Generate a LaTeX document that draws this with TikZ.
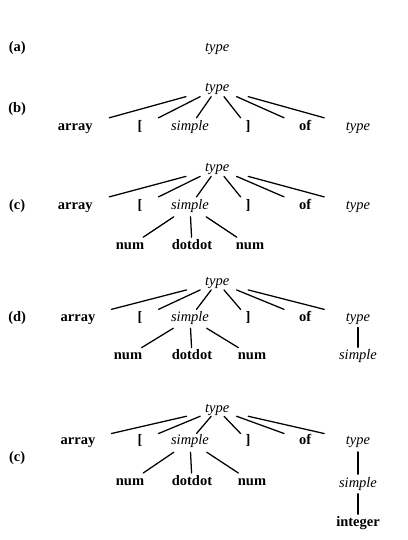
\documentclass[tikz,border=0pt]{standalone}
\usepackage{fontspec}
\setmainfont{Liberation Serif}
\usetikzlibrary{calc}
\tikzset{
  every node/.style={font=\fontsize{10.3}{12}\selectfont, inner sep=1pt,
                     text height=1.6ex, text depth=0.45ex},
  term/.style   = {font=\fontsize{10.3}{12}\selectfont\bfseries},
  nt/.style     = {font=\fontsize{10.3}{12}\selectfont\itshape},
  lbl/.style    = {font=\fontsize{10.3}{12}\selectfont\bfseries},
  branch/.style = {line width=0.9pt, line cap=round},
}

\begin{document}
\begin{tikzpicture}
  \useasboundingbox (0,0) rectangle (10.175,-13.5);

  % (a)
  \node[lbl]  (la)  at (0.43,-1.2)   {(a)};
  \node[nt]   (a0)  at (5.43,-1.2)   {type};

  % (b)
  \node[lbl]  (lb)  at (0.43,-2.72)  {(b)};
  \node[nt]   (b0)  at (5.43,-2.2)   {type};
  \node[term] (b1)  at (1.88,-3.18)  {array};
  \node[term] (b2)  at (3.5,-3.18)   {[};
  \node[nt]   (b3)  at (4.75,-3.18)  {simple};
  \node[term] (b4)  at (6.2,-3.18)   {]};
  \node[term] (b5)  at (7.63,-3.18)  {of};
  \node[nt]   (b6)  at (8.95,-3.18)  {type};
  \foreach \k in {1,...,6}
    \draw[branch] ($(b0)!.22!(b\k)$) -- ($(b0)!.76!(b\k)$);

  % (c)
  \node[lbl]  (lc)  at (0.43,-5.15)  {(c)};
  \node[nt]   (c0)  at (5.43,-4.2)   {type};
  \node[term] (c1)  at (1.88,-5.15)  {array};
  \node[term] (c2)  at (3.5,-5.15)   {[};
  \node[nt]   (c3)  at (4.75,-5.15)  {simple};
  \node[term] (c4)  at (6.2,-5.15)   {]};
  \node[term] (c5)  at (7.63,-5.15)  {of};
  \node[nt]   (c6)  at (8.95,-5.15)  {type};
  \node[term] (c31) at (3.25,-6.15)  {num};
  \node[term] (c32) at (4.8,-6.15)   {dotdot};
  \node[term] (c33) at (6.25,-6.15)  {num};
  \foreach \k in {1,...,6}
    \draw[branch] ($(c0)!.22!(c\k)$) -- ($(c0)!.76!(c\k)$);
  \foreach \k in {1,2,3}
    \draw[branch] ($(c3)!.27!(c3\k)$) -- ($(c3)!.78!(c3\k)$);

  % (d)
  \node[lbl]  (ld)  at (0.43,-7.95)  {(d)};
  \node[nt]   (d0)  at (5.43,-7.05)  {type};
  \node[term] (d1)  at (1.95,-7.95)  {array};
  \node[term] (d2)  at (3.5,-7.95)   {[};
  \node[nt]   (d3)  at (4.75,-7.95)  {simple};
  \node[term] (d4)  at (6.2,-7.95)   {]};
  \node[term] (d5)  at (7.63,-7.95)  {of};
  \node[nt]   (d6)  at (8.95,-7.95)  {type};
  \node[term] (d31) at (3.2,-8.9)    {num};
  \node[term] (d32) at (4.8,-8.9)    {dotdot};
  \node[term] (d33) at (6.3,-8.9)    {num};
  \node[nt]   (d61) at (8.95,-8.9)   {simple};
  \foreach \k in {1,...,6}
    \draw[branch] ($(d0)!.22!(d\k)$) -- ($(d0)!.76!(d\k)$);
  \foreach \k in {1,2,3}
    \draw[branch] ($(d3)!.27!(d3\k)$) -- ($(d3)!.78!(d3\k)$);
  \draw[branch] ($(d6)!.25!(d61)$) -- ($(d6)!.77!(d61)$);

  % (e)
  \node[lbl]  (le)  at (0.43,-11.45) {(c)};
  \node[nt]   (e0)  at (5.43,-10.23) {type};
  \node[term] (e1)  at (1.95,-11.03) {array};
  \node[term] (e2)  at (3.5,-11.03)  {[};
  \node[nt]   (e3)  at (4.75,-11.03) {simple};
  \node[term] (e4)  at (6.2,-11.03)  {]};
  \node[term] (e5)  at (7.63,-11.03) {of};
  \node[nt]   (e6)  at (8.95,-11.03) {type};
  \node[term] (e31) at (3.25,-12.05) {num};
  \node[term] (e32) at (4.8,-12.05)  {dotdot};
  \node[term] (e33) at (6.3,-12.05)  {num};
  \node[nt]   (e61) at (8.95,-12.1)  {simple};
  \node[term] (e62) at (8.95,-13.08) {integer};
  \foreach \k in {1,...,6}
    \draw[branch] ($(e0)!.22!(e\k)$) -- ($(e0)!.76!(e\k)$);
  \foreach \k in {1,2,3}
    \draw[branch] ($(e3)!.27!(e3\k)$) -- ($(e3)!.78!(e3\k)$);
  \draw[branch] ($(e6)!.25!(e61)$) -- ($(e6)!.77!(e61)$);
  \draw[branch] ($(e61)!.25!(e62)$) -- ($(e61)!.77!(e62)$);
\end{tikzpicture}
\end{document}
